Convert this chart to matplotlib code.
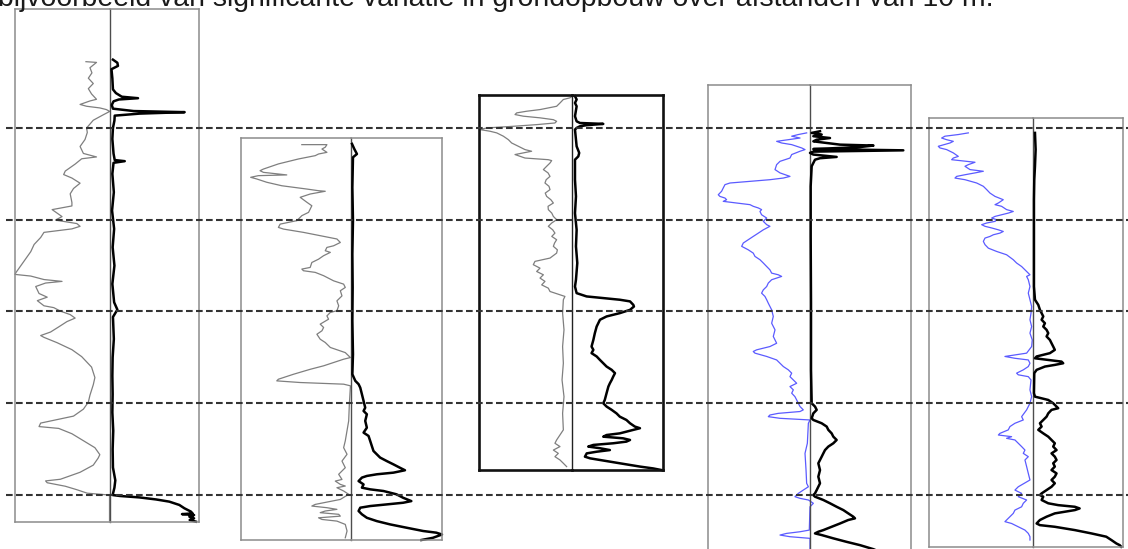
import matplotlib
matplotlib.use("Agg")
import matplotlib.pyplot as plt
import numpy as np

TITLE = "bijvoorbeeld van significante variatie in grondopbouw over afstanden van 10 m."

# levels (m NAP) of the dashed reference lines
DASH_LEVELS = [-5, -10, -15, -20, -25]

# soundings: (level m NAP, friction ratio %) and (level m NAP, cone resistance MPa)
P1_RF = np.array([
    (-1.39, 2.53), (-1.43, 1.42), (-1.72, 2.11), (-2.00, 1.90), (-2.29, 2.28), (-2.58, 1.76),
    (-2.86, 2.28), (-3.15, 1.94), (-3.44, 1.42), (-3.53, 2.11), (-3.72, 3.15), (-3.82, 2.46),
    (-3.91, 1.07), (-4.00, 0.38), (-4.10, 0.03), (-4.29, 0.73), (-4.58, 1.76), (-5.00, 2.46),
    (-5.25, 2.39), (-5.63, 2.63), (-6.01, 3.15), (-6.39, 2.80), (-6.58, 1.42), (-6.68, 2.98),
    (-6.97, 3.67), (-7.35, 4.71), (-7.54, 4.88), (-7.73, 4.01), (-8.01, 3.15), (-8.30, 3.84),
    (-8.59, 4.19), (-9.06, 4.01), (-9.25, 4.01), (-9.45, 6.09), (-9.83, 5.05), (-10.02, 5.74),
    (-10.21, 3.49), (-10.36, 3.15), (-10.50, 4.01), (-10.69, 6.95), (-10.97, 7.30), (-11.35, 7.99),
    (-11.74, 8.34), (-12.12, 8.86), (-12.50, 9.38), (-12.88, 9.90), (-12.98, 10.0), (-13.07, 8.34),
    (-13.26, 6.95), (-13.36, 5.05), (-13.45, 6.78), (-13.64, 7.82), (-14.02, 7.47), (-14.22, 6.61),
    (-14.41, 7.65), (-14.69, 6.95), (-14.79, 5.92), (-14.98, 5.22), (-15.17, 4.19), (-15.36, 3.67),
    (-15.55, 4.53), (-15.84, 5.40), (-16.12, 6.26), (-16.31, 7.30), (-16.41, 6.95), (-16.70, 5.57),
    (-17.08, 4.01), (-17.46, 2.98), (-18.03, 1.94), (-18.60, 1.59), (-18.99, 1.76), (-19.56, 2.11),
    (-19.94, 2.28), (-20.32, 2.80), (-20.70, 3.84), (-20.89, 5.57), (-21.08, 7.30), (-21.27, 7.47),
    (-21.37, 5.40), (-21.66, 4.01), (-22.04, 2.80), (-22.42, 1.59), (-22.80, 1.07), (-22.99, 1.25),
    (-23.37, 1.76), (-23.76, 3.15), (-24.14, 5.22), (-24.23, 6.78), (-24.33, 6.61), (-24.52, 4.71),
    (-24.71, 3.49), (-24.90, 2.39), (-25.00, 0.05), (-26.40, 0.05)])
P1_QC = np.array([
    (-1.28, 1.0), (-1.45, 2.5), (-1.62, 2.7), (-1.80, 0.5), (-2.30, 0.8), (-2.90, 1.0),
    (-3.10, 2.0), (-3.30, 4.0), (-3.38, 9.5), (-3.45, 3.0), (-3.55, 1.2), (-3.75, 0.6),
    (-3.95, 1.0), (-4.08, 8.0), (-4.14, 25.3), (-4.22, 10.0), (-4.33, 1.6), (-4.60, 1.5),
    (-5.00, 1.0), (-5.60, 0.8), (-6.40, 1.2), (-6.75, 1.6), (-6.81, 5.0), (-6.90, 1.2),
    (-7.50, 0.8), (-8.50, 1.3), (-9.50, 0.7), (-10.50, 1.4), (-11.50, 0.9), (-12.50, 1.5),
    (-13.50, 0.8), (-14.50, 1.4), (-14.90, 2.5), (-15.30, 1.0), (-16.50, 1.3), (-17.50, 0.9),
    (-18.50, 0.8), (-19.50, 0.9), (-20.50, 0.8), (-21.50, 1.1), (-22.50, 0.9), (-23.50, 1.0),
    (-24.20, 1.8), (-24.60, 1.5), (-25.00, 0.9), (-25.05, 3.3), (-25.13, 10.0), (-25.24, 15.6),
    (-25.36, 20.1), (-25.54, 23.5), (-25.72, 25.2), (-25.90, 27.4), (-26.00, 28.0), (-26.04, 24.4),
    (-26.09, 28.5), (-26.18, 26.9), (-26.27, 28.5), (-26.36, 27.0), (-26.45, 29.1)])

P2_RF = np.array([
    (-5.91, 4.47), (-5.91, 2.19), (-6.05, 2.34), (-6.15, 2.64), (-6.33, 2.19), (-6.42, 2.95),
    (-6.51, 3.25), (-6.69, 4.77), (-6.96, 6.60), (-7.24, 7.96), (-7.33, 8.27), (-7.42, 7.96),
    (-7.56, 5.84), (-7.60, 8.42), (-7.69, 9.12), (-7.78, 8.57), (-7.96, 7.66), (-8.15, 6.29),
    (-8.33, 4.01), (-8.42, 2.95), (-8.45, 2.34), (-8.60, 3.71), (-8.78, 4.62), (-9.05, 4.01),
    (-9.24, 3.56), (-9.42, 3.71), (-9.60, 3.86), (-9.78, 4.47), (-10.05, 4.92), (-10.24, 6.44),
    (-10.42, 6.60), (-10.51, 6.14), (-10.69, 4.32), (-10.87, 2.80), (-11.05, 1.28), (-11.24, 0.97),
    (-11.42, 1.58), (-11.51, 2.19), (-11.69, 2.34), (-11.78, 1.88), (-11.96, 2.49), (-12.15, 2.95),
    (-12.33, 3.56), (-12.60, 3.71), (-12.69, 4.47), (-12.78, 4.32), (-12.87, 3.25), (-13.05, 2.49),
    (-13.33, 1.58), (-13.51, 0.67), (-13.69, 0.52), (-13.87, 0.97), (-14.15, 0.82), (-14.42, 1.28),
    (-14.69, 1.12), (-14.96, 1.28), (-15.05, 1.88), (-15.24, 2.19), (-15.42, 2.04), (-15.69, 2.80),
    (-15.87, 2.49), (-16.05, 2.64), (-16.24, 3.10), (-16.51, 2.80), (-16.69, 2.34), (-16.96, 1.88),
    (-17.24, 0.52), (-17.42, 0.21), (-17.51, 0.06), (-17.60, 0.67), (-17.78, 1.58), (-17.96, 2.49),
    (-18.15, 3.71), (-18.42, 5.23), (-18.69, 6.60), (-18.78, 6.75), (-18.87, 4.62), (-18.96, 0.67),
    (-19.05, 0.05), (-20.05, 0.15), (-20.96, 0.21), (-22.05, 0.52), (-22.42, 0.67), (-22.78, 0.36),
    (-23.15, 0.82), (-23.51, 0.52), (-23.87, 1.12), (-24.15, 0.82), (-24.24, 1.43), (-24.42, 0.97),
    (-24.51, 0.52), (-24.60, 1.28), (-24.78, 0.67), (-24.96, 0.21), (-25.24, 0.97), (-25.51, 3.25),
    (-25.60, 3.56), (-25.69, 2.19), (-25.78, 1.28), (-25.87, 2.34), (-25.96, 2.80), (-26.05, 1.12),
    (-26.15, 0.97), (-26.24, 2.95), (-26.33, 2.64), (-26.42, 1.28), (-26.60, 0.52), (-26.96, 0.36),
    (-27.33, 0.52)])
P2_QC = np.array([
    (-5.87, 0.33), (-6.15, 1.10), (-6.42, 1.96), (-6.60, 0.65), (-8.24, 0.45), (-10.05, 0.65),
    (-11.87, 0.45), (-13.69, 0.55), (-15.51, 0.45), (-17.33, 0.65), (-18.42, 0.45), (-18.78, 1.42),
    (-18.96, 2.50), (-19.15, 3.05), (-19.51, 3.60), (-19.87, 4.14), (-20.24, 4.69), (-20.42, 4.14),
    (-20.60, 5.23), (-20.96, 4.69), (-21.33, 5.23), (-21.60, 4.14), (-21.78, 5.78), (-22.05, 6.32),
    (-22.33, 6.87), (-22.60, 7.41), (-22.78, 8.50), (-22.96, 9.60), (-23.15, 11.8), (-23.33, 14.0),
    (-23.51, 16.1), (-23.65, 17.8), (-23.78, 14.0), (-23.87, 8.50), (-23.96, 5.23), (-24.05, 3.60),
    (-24.24, 2.50), (-24.42, 4.14), (-24.60, 3.60), (-24.69, 6.32), (-24.78, 10.7), (-24.96, 15.0),
    (-25.15, 17.2), (-25.33, 19.9), (-25.42, 17.2), (-25.51, 11.8), (-25.60, 6.32), (-25.69, 3.05),
    (-25.87, 2.50), (-26.05, 3.60), (-26.24, 5.23), (-26.42, 8.50), (-26.60, 12.9), (-26.78, 18.3),
    (-26.96, 23.8), (-27.05, 28.1), (-27.15, 30.0), (-27.33, 27.0), (-27.45, 23.2)])

P3_RF = np.array([
    (-3.27, 0.0), (-3.36, 0.25), (-3.45, 0.96), (-3.64, 1.32), (-3.82, 1.68), (-4.00, 3.46),
    (-4.09, 4.89), (-4.18, 5.96), (-4.27, 6.14), (-4.36, 5.25), (-4.45, 3.46), (-4.55, 2.03),
    (-4.64, 1.68), (-4.73, 1.86), (-4.82, 3.82), (-4.91, 6.32), (-5.00, 9.17), (-5.09, 9.89),
    (-5.18, 8.82), (-5.27, 8.10), (-5.45, 7.39), (-5.64, 6.85), (-5.82, 6.50), (-6.00, 5.78),
    (-6.18, 5.07), (-6.27, 4.36), (-6.36, 5.25), (-6.45, 6.14), (-6.64, 5.07), (-6.73, 2.57),
    (-6.78, 2.21), (-6.91, 2.39), (-7.09, 2.75), (-7.27, 3.10), (-7.45, 2.60), (-7.64, 2.39),
    (-7.82, 2.80), (-8.00, 2.93), (-8.18, 2.50), (-8.36, 2.39), (-8.55, 2.90), (-8.73, 2.75),
    (-8.91, 2.30), (-9.09, 2.03), (-9.27, 2.60), (-9.45, 2.57), (-9.64, 2.20), (-9.82, 2.03),
    (-10.00, 1.68), (-10.18, 2.21), (-10.36, 2.57), (-10.55, 2.10), (-10.73, 1.86), (-10.91, 2.20),
    (-11.09, 1.68), (-11.27, 1.90), (-11.45, 2.03), (-11.64, 1.60), (-11.82, 1.68), (-12.09, 2.39),
    (-12.27, 4.00), (-12.45, 4.18), (-12.64, 3.46), (-12.82, 3.82), (-13.00, 3.10), (-13.18, 3.46),
    (-13.36, 2.93), (-13.55, 3.28), (-13.73, 2.57), (-13.91, 2.39), (-14.09, 1.32), (-14.18, 0.79),
    (-14.36, 0.96), (-15.09, 1.04), (-16.00, 0.89), (-16.91, 1.04), (-17.82, 0.96), (-18.73, 1.10),
    (-19.64, 0.89), (-20.55, 1.04), (-21.45, 0.96), (-22.00, 1.68), (-22.18, 1.86), (-22.36, 1.32),
    (-22.55, 2.03), (-22.73, 1.50), (-22.91, 1.86), (-23.09, 1.32), (-23.27, 0.96), (-23.45, 0.61)])
P3_QC = np.array([
    (-3.27, 0.89), (-3.45, 1.44), (-3.64, 0.89), (-3.82, 1.44), (-4.36, 0.89), (-4.64, 1.44),
    (-4.73, 2.55), (-4.78, 10.3), (-4.85, 4.76), (-4.91, 2.55), (-5.00, 1.44), (-5.09, 0.89),
    (-6.00, 1.44), (-6.36, 2.30), (-6.55, 2.00), (-6.73, 0.89), (-7.82, 0.89), (-8.73, 1.22),
    (-9.64, 0.89), (-10.55, 1.44), (-11.45, 1.22), (-12.36, 1.66), (-13.27, 1.22), (-13.64, 0.89),
    (-14.00, 1.44), (-14.18, 4.76), (-14.27, 10.3), (-14.36, 15.8), (-14.45, 19.2), (-14.64, 20.3),
    (-14.73, 20.5), (-14.91, 19.2), (-15.09, 15.8), (-15.27, 11.4), (-15.45, 9.2), (-15.82, 8.1),
    (-16.18, 7.5), (-16.55, 7.0), (-16.91, 6.4), (-17.09, 7.0), (-17.27, 6.4), (-17.45, 8.1),
    (-17.64, 9.2), (-17.82, 10.3), (-18.00, 11.4), (-18.18, 13.1), (-18.36, 14.2), (-18.55, 13.6),
    (-18.73, 13.1), (-18.91, 12.5), (-19.09, 12.0), (-19.45, 11.4), (-19.82, 10.8), (-20.00, 10.3),
    (-20.18, 11.4), (-20.36, 13.1), (-20.55, 14.7), (-20.73, 15.8), (-20.91, 18.0), (-21.09, 19.2),
    (-21.27, 20.8), (-21.36, 22.5), (-21.45, 20.3), (-21.64, 15.8), (-21.73, 11.4), (-21.82, 10.3),
    (-21.91, 16.9), (-22.00, 19.2), (-22.09, 18.0), (-22.18, 13.6), (-22.27, 7.0), (-22.36, 5.3),
    (-22.45, 9.2), (-22.55, 12.5), (-22.64, 8.1), (-22.73, 4.8), (-22.91, 4.2), (-23.00, 5.9),
    (-23.09, 9.2), (-23.27, 15.8), (-23.45, 22.5), (-23.55, 26.9), (-23.64, 29.7)])

P4_RF = np.array([
    (-5.27, 0.33), (-5.36, 1.15), (-5.45, 1.80), (-5.55, 0.98), (-5.64, 2.13), (-5.73, 3.28),
    (-5.82, 2.79), (-5.91, 1.80), (-6.00, 1.31), (-6.09, 0.82), (-6.18, 0.49), (-6.27, 0.98),
    (-6.45, 1.80), (-6.64, 1.97), (-6.82, 2.95), (-7.00, 3.28), (-7.27, 3.44), (-7.45, 2.95),
    (-7.64, 1.97), (-7.73, 2.62), (-7.82, 3.94), (-7.91, 5.90), (-8.00, 7.87), (-8.09, 8.36),
    (-8.27, 8.53), (-8.45, 8.69), (-8.64, 9.02), (-8.73, 8.86), (-8.82, 8.36), (-8.91, 8.20),
    (-9.00, 8.53), (-9.09, 7.22), (-9.18, 5.90), (-9.27, 5.58), (-9.36, 5.08), (-9.45, 4.76),
    (-9.55, 4.92), (-9.73, 4.76), (-9.91, 4.26), (-10.09, 4.59), (-10.27, 4.26), (-10.36, 3.94),
    (-10.55, 4.59), (-10.73, 5.08), (-10.91, 5.58), (-11.09, 6.07), (-11.27, 6.56), (-11.45, 6.72),
    (-11.64, 6.07), (-11.82, 5.58), (-12.00, 5.41), (-12.18, 4.92), (-12.36, 4.59), (-12.55, 4.26),
    (-12.73, 3.94), (-12.91, 3.77), (-13.00, 3.12), (-13.09, 2.79), (-13.18, 3.28), (-13.27, 3.77),
    (-13.45, 4.10), (-13.64, 4.26), (-13.82, 4.59), (-14.00, 4.76), (-14.18, 4.43), (-14.36, 4.26),
    (-14.55, 4.10), (-14.91, 3.77), (-15.27, 3.61), (-15.64, 3.77), (-16.00, 3.44), (-16.36, 3.61),
    (-16.73, 3.28), (-16.91, 3.94), (-17.09, 5.25), (-17.18, 5.58), (-17.27, 5.41), (-17.45, 4.26),
    (-17.64, 3.28), (-17.82, 2.95), (-18.00, 2.62), (-18.18, 2.13), (-18.36, 1.80), (-18.55, 1.97),
    (-18.73, 1.64), (-18.91, 1.31), (-19.09, 1.97), (-19.27, 1.64), (-19.45, 1.80), (-19.64, 1.48),
    (-19.82, 1.31), (-20.00, 1.15), (-20.18, 0.98), (-20.36, 0.66), (-20.45, 0.98), (-20.55, 3.12),
    (-20.64, 3.94), (-20.73, 4.10), (-20.82, 2.95), (-20.91, 0.00), (-21.09, 0.16), (-22.18, 0.26),
    (-22.73, 0.49), (-23.64, 0.39), (-24.36, 0.33), (-24.55, 0.16), (-24.73, 0.66), (-24.91, 1.15),
    (-25.09, 1.48), (-25.18, 0.98), (-25.27, 0.16), (-25.45, -0.33), (-25.64, 0.00), (-26.91, 0.07),
    (-27.00, 0.98), (-27.09, 2.30), (-27.18, 2.95), (-27.27, 1.97), (-27.36, 0.00), (-28.00, 0.00)])
P4_QC = np.array([
    (-5.18, 2.98), (-5.27, 0.50), (-5.36, 3.48), (-5.45, 0.99), (-5.55, 5.96), (-5.64, 1.99),
    (-5.73, 0.99), (-5.82, 4.97), (-5.91, 8.94), (-5.96, 18.9), (-6.04, 14.9), (-6.09, 8.94),
    (-6.15, 0.99), (-6.22, 27.8), (-6.29, 0.99), (-6.36, 0.00), (-6.45, 0.99), (-6.58, 7.94),
    (-6.65, 2.98), (-6.73, 1.49), (-6.91, 0.99), (-7.09, 0.50), (-8.18, 0.20), (-10.91, 0.20),
    (-14.55, 0.30), (-18.18, 0.30), (-20.00, 0.50), (-20.18, 1.49), (-20.36, 1.99), (-20.55, 0.99),
    (-20.82, 0.50), (-20.91, 0.99), (-21.09, 3.48), (-21.27, 4.97), (-21.45, 5.46), (-21.64, 6.45),
    (-21.82, 6.95), (-22.00, 7.94), (-22.18, 6.95), (-22.36, 5.46), (-22.55, 4.47), (-22.73, 3.97),
    (-22.91, 3.48), (-23.27, 2.48), (-23.64, 2.98), (-24.00, 2.48), (-24.36, 2.98), (-24.73, 1.99),
    (-24.91, 1.49), (-25.00, 0.99), (-25.09, 1.49), (-25.27, 3.97), (-25.45, 5.96), (-25.64, 7.94),
    (-25.82, 9.93), (-26.00, 11.4), (-26.18, 12.9), (-26.27, 13.4), (-26.36, 11.4), (-26.55, 8.94),
    (-26.73, 6.45), (-26.91, 3.97), (-27.00, 2.48), (-27.09, 1.49), (-27.18, 3.48), (-27.36, 6.95),
    (-27.55, 10.9), (-27.73, 14.9), (-27.95, 18.9), (-28.20, 22.0)])

P5_RF = np.array([
    (-5.27, 6.23), (-5.36, 7.19), (-5.45, 8.47), (-5.55, 8.79), (-5.64, 8.31), (-5.73, 7.67),
    (-5.82, 7.99), (-6.00, 9.11), (-6.09, 8.95), (-6.18, 8.31), (-6.36, 7.67), (-6.55, 7.19),
    (-6.64, 7.67), (-6.73, 7.83), (-6.87, 5.59), (-7.00, 6.23), (-7.09, 6.55), (-7.27, 6.07),
    (-7.36, 4.79), (-7.45, 5.59), (-7.55, 6.55), (-7.64, 7.35), (-7.73, 7.51), (-7.82, 6.55),
    (-8.00, 5.43), (-8.18, 4.79), (-8.36, 4.47), (-8.55, 4.15), (-8.73, 3.67), (-8.91, 2.88),
    (-9.09, 3.35), (-9.18, 3.67), (-9.27, 3.04), (-9.45, 2.56), (-9.55, 1.92), (-9.64, 2.40),
    (-9.73, 3.04), (-9.82, 3.67), (-9.91, 3.99), (-10.00, 3.51), (-10.09, 3.67), (-10.18, 4.47),
    (-10.27, 4.95), (-10.36, 4.63), (-10.45, 3.99), (-10.55, 3.35), (-10.64, 2.88), (-10.73, 3.20),
    (-10.82, 3.83), (-10.91, 4.15), (-11.00, 4.63), (-11.18, 4.79), (-11.36, 4.63), (-11.55, 4.31),
    (-11.73, 3.51), (-11.91, 2.56), (-12.18, 1.92), (-12.36, 1.60), (-12.55, 1.12), (-12.73, 0.80),
    (-12.91, 0.48), (-13.00, 0.32), (-13.09, 0.64), (-13.27, 0.48), (-13.64, 0.32), (-14.00, 0.48),
    (-14.36, 0.32), (-14.73, 0.16), (-15.09, 0.22), (-15.45, 0.32), (-15.82, 0.16), (-16.18, 0.32),
    (-16.55, 0.10), (-16.91, 0.16), (-17.27, 0.64), (-17.45, 2.72), (-17.55, 1.76), (-17.64, 0.48),
    (-17.82, 0.32), (-18.00, 0.48), (-18.18, 0.96), (-18.36, 1.60), (-18.45, 1.44), (-18.55, 0.48),
    (-18.73, 0.22), (-19.27, 0.32), (-19.64, 0.16), (-20.00, 0.32), (-20.36, 0.64), (-20.73, 1.12),
    (-20.91, 0.96), (-21.09, 1.76), (-21.27, 2.24), (-21.45, 2.40), (-21.64, 3.20), (-21.73, 3.35),
    (-21.82, 2.08), (-21.91, 2.56), (-22.00, 1.76), (-22.18, 1.44), (-22.36, 1.12), (-22.55, 0.80),
    (-22.73, 0.96), (-22.91, 0.48), (-23.09, 0.80), (-23.45, 0.64), (-23.82, 0.48), (-24.18, 0.32),
    (-24.55, 1.44), (-24.73, 1.76), (-24.91, 1.12), (-25.09, 1.44), (-25.27, 0.64), (-25.45, 0.96),
    (-25.64, 1.12), (-25.82, 1.76), (-26.00, 1.92), (-26.18, 2.24), (-26.36, 2.56), (-26.45, 2.72),
    (-26.55, 2.08), (-26.73, 1.44), (-26.91, 0.80), (-27.09, 0.48), (-27.27, 0.32), (-27.45, 0.32)])
P5_QC = np.array([
    (-5.27, 0.56), (-6.18, 0.78), (-7.09, 0.56), (-7.82, 0.33), (-8.91, 0.22), (-10.73, 0.22),
    (-12.55, 0.22), (-13.64, 0.22), (-14.36, 0.56), (-14.64, 1.67), (-14.91, 2.22), (-15.09, 2.78),
    (-15.27, 3.33), (-15.45, 2.78), (-15.64, 3.89), (-15.82, 3.33), (-16.00, 4.44), (-16.18, 5.00),
    (-16.36, 4.44), (-16.55, 5.55), (-16.73, 6.10), (-16.91, 6.66), (-17.09, 7.20), (-17.27, 5.55),
    (-17.45, 1.11), (-17.55, 0.56), (-17.64, 5.00), (-17.73, 9.44), (-17.82, 10.0), (-17.91, 7.20),
    (-18.00, 3.89), (-18.18, 1.11), (-18.36, 0.33), (-19.45, 0.22), (-19.64, 0.56), (-19.82, 5.00),
    (-20.00, 6.66), (-20.18, 7.77), (-20.27, 8.33), (-20.36, 6.10), (-20.55, 5.00), (-20.73, 4.44),
    (-20.91, 3.33), (-21.09, 2.22), (-21.27, 2.78), (-21.45, 1.67), (-21.64, 3.33), (-21.82, 5.00),
    (-22.00, 6.10), (-22.18, 7.20), (-22.36, 6.66), (-22.55, 7.77), (-22.73, 6.10), (-22.91, 7.20),
    (-23.09, 7.77), (-23.27, 6.66), (-23.45, 7.20), (-23.64, 6.10), (-23.82, 7.77), (-24.00, 7.20),
    (-24.18, 6.10), (-24.36, 7.20), (-24.55, 6.10), (-24.73, 4.44), (-24.91, 2.78), (-25.00, 2.22),
    (-25.09, 3.33), (-25.27, 2.78), (-25.45, 5.00), (-25.55, 8.33), (-25.64, 13.9), (-25.73, 15.5),
    (-25.82, 13.9), (-26.00, 7.20), (-26.18, 4.44), (-26.36, 2.22), (-26.45, 1.67), (-26.55, 1.11),
    (-26.64, 2.22), (-26.73, 7.20), (-26.91, 13.9), (-27.09, 19.4), (-27.27, 24.4), (-27.45, 26.1),
    (-27.64, 27.8), (-27.73, 28.9), (-27.82, 29.4)])

RF_MAX = 10.0   # % at the left edge of each panel
QC_MAX = 30.0   # MPa at the right edge of each panel

GRAY = "#7f7f7f"
BLUE = "#5b5bff"

# layout in pixels (left edge, centre line, right edge) plus the level span of the box
panels = [
    dict(rf=P1_RF, qc=P1_QC, x=(15, 110, 198.5), top=1.46, bottom=-26.45, rfc=GRAY, frame="#8c8c8c", lw=1.1),
    dict(rf=P2_RF, qc=P2_QC, x=(241, 351, 442), top=-5.55, bottom=-27.45, rfc=GRAY, frame="#8c8c8c", lw=1.1),
    dict(rf=P3_RF, qc=P3_QC, x=(479, 572.3, 662.5), top=-3.22, bottom=-23.64, rfc=GRAY, frame="#111111", lw=1.9),
    dict(rf=P4_RF, qc=P4_QC, x=(708.3, 810, 910.7), top=-2.66, bottom=-28.8, rfc=BLUE, frame="#8c8c8c", lw=1.1),
    dict(rf=P5_RF, qc=P5_QC, x=(929, 1033.3, 1123), top=-4.45, bottom=-27.85, rfc=BLUE, frame="#8c8c8c", lw=1.1),
]

W, H = 1128, 549
Y_TOP, Y_BOT = 1.97, -27.94   # levels at the top and bottom of the picture

fig = plt.figure(figsize=(W / 100, H / 100), dpi=100)
fig.patch.set_facecolor("white")

def fy(level):
    return (level - Y_BOT) / (Y_TOP - Y_BOT)

for p in panels:
    l, m, r = p["x"]
    y0 = fy(p["bottom"])
    h = fy(p["top"]) - y0
    axl = fig.add_axes([l / W, y0, (m - l) / W, h])
    axr = fig.add_axes([m / W, y0, (r - m) / W, h])
    axl.set_xlim(RF_MAX, 0)
    axr.set_xlim(0, QC_MAX)
    for ax in (axl, axr):
        ax.set_ylim(p["bottom"], p["top"])
        ax.set_xticks([])
        ax.set_yticks([])
        ax.patch.set_alpha(0)
        for s in ax.spines.values():
            s.set_color(p["frame"])
            s.set_linewidth(p["lw"])
    axr.spines["left"].set_visible(False)
    axl.spines["right"].set_color("#4d4d4d" if p["frame"] != "#111111" else "#222222")
    axl.spines["right"].set_linewidth(1.0)
    axl.plot(p["rf"][:, 1], p["rf"][:, 0], color=p["rfc"], lw=0.9, clip_on=False)
    axr.plot(p["qc"][:, 1], p["qc"][:, 0], color="black", lw=1.8, clip_on=False,
             solid_joinstyle="round")

# dashed reference levels across the whole sheet
ov = fig.add_axes([0, 0, 1, 1])
ov.set_xlim(0, W)
ov.set_ylim(Y_BOT, Y_TOP)
ov.axis("off")
ov.patch.set_alpha(0)
ov.hlines(DASH_LEVELS, 6, W, colors="#333333", linewidth=1.5, linestyles=(0, (3.2, 1.6)))

fig.text(-1.5 / W, 1 - 6.3 / H, TITLE, fontsize=20.4, family="Liberation Sans",
         ha="left", va="baseline", color="#1a1a1a")

fig.savefig("out.png", dpi=100, facecolor="white")
